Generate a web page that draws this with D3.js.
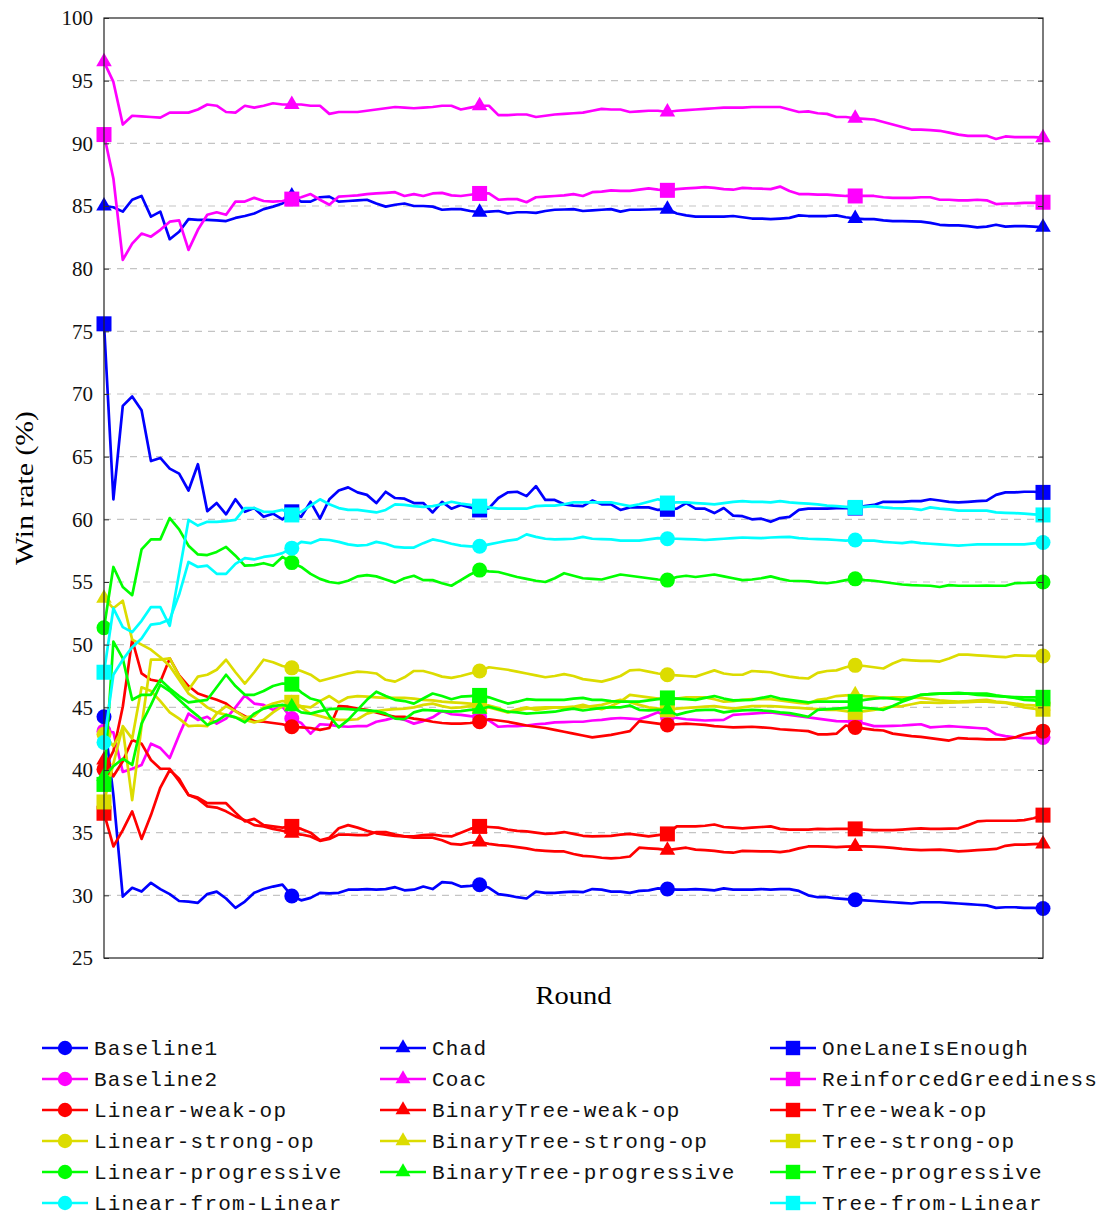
<!DOCTYPE html>
<html><head><meta charset="utf-8">
<script src="https://cdn.jsdelivr.net/npm/d3@7"></script>
<style>html,body{margin:0;padding:0;background:#fff}</style>
</head><body>
<svg id="c" width="1108" height="1216"></svg>
<script>
const rounds = d3.range(0, 101);
const yTicks = [25,30,35,40,45,50,55,60,65,70,75,80,85,90,95,100];

const baseline1 = [44.25,38.0,29.9,30.6,30.3,31.0,30.5,30.1,29.55,29.5,29.4,30.1,30.3,29.75,29.0,29.5,30.2,30.5,30.7,30.85,29.95,29.6,29.8,30.2,30.15,30.2,30.45,30.45,30.5,30.45,30.5,30.65,30.4,30.45,30.7,30.5,31.05,31.0,30.7,30.75,30.85,30.6,30.1,30.0,29.85,29.75,30.3,30.2,30.2,30.25,30.3,30.25,30.5,30.45,30.3,30.3,30.2,30.35,30.4,30.55,30.5,30.45,30.45,30.5,30.45,30.4,30.55,30.45,30.45,30.45,30.5,30.45,30.5,30.5,30.35,30.0,29.85,29.85,29.75,29.7,29.65,29.6,29.55,29.5,29.45,29.4,29.35,29.45,29.45,29.45,29.4,29.35,29.3,29.25,29.2,29.0,29.05,29.05,29.0,29.0,28.95];
const chad = [85.0,84.9,84.55,85.5,85.8,84.15,84.55,82.35,82.95,83.95,83.9,83.9,83.85,83.8,84.05,84.2,84.4,84.75,84.95,85.2,85.8,85.35,85.35,85.7,85.75,85.35,85.4,85.45,85.5,85.2,84.95,85.1,85.2,85.0,85.0,84.95,84.7,84.75,84.75,84.6,84.5,84.55,84.6,84.4,84.5,84.5,84.45,84.6,84.7,84.72,84.75,84.6,84.65,84.7,84.75,84.55,84.7,84.7,84.72,84.75,84.75,84.4,84.25,84.15,84.15,84.15,84.15,84.2,84.1,84.0,84.0,83.95,84.0,84.05,84.25,84.2,84.2,84.2,84.25,84.1,84.0,83.95,83.95,83.85,83.8,83.8,83.78,83.75,83.65,83.5,83.45,83.45,83.4,83.3,83.35,83.5,83.35,83.4,83.4,83.35,83.3];
const oneLane = [75.6,61.6,69.05,69.8,68.7,64.65,64.9,64.05,63.65,62.3,64.4,60.65,61.3,60.4,61.6,60.6,60.9,60.2,60.45,60.0,60.6,60.2,61.4,60.05,61.6,62.3,62.55,62.15,61.95,61.3,62.2,61.7,61.65,61.3,61.3,60.55,61.4,60.85,61.15,60.95,60.75,60.9,61.7,62.15,62.2,61.85,62.65,61.55,61.55,61.2,61.1,61.05,61.5,61.2,61.2,60.75,60.95,60.95,60.95,60.75,60.8,60.85,61.3,60.85,60.85,60.5,60.9,60.3,60.25,60.0,60.05,59.8,60.1,60.2,60.75,60.85,60.85,60.85,60.9,60.9,60.9,61.05,61.15,61.4,61.4,61.4,61.45,61.45,61.6,61.5,61.4,61.35,61.4,61.45,61.5,61.95,62.15,62.15,62.2,62.2,62.15];
const baseline2 = [43.1,43.0,39.85,40.1,40.4,42.1,41.75,40.95,42.8,44.5,44.0,44.25,43.7,44.1,45.0,45.95,45.3,45.2,44.8,45.05,44.1,43.75,42.9,43.65,43.6,43.5,43.45,43.5,43.5,43.85,44.0,44.2,44.0,43.7,43.9,44.2,44.7,44.45,44.4,44.3,44.25,43.95,43.45,43.5,43.5,43.55,43.65,43.7,43.8,43.82,43.85,43.85,43.95,44.0,44.1,44.15,44.1,44.05,44.3,44.6,44.25,44.15,44.05,44.0,43.95,43.98,44.0,44.4,44.45,44.5,44.55,44.6,44.5,44.4,44.3,44.2,44.1,44.0,43.9,43.88,43.85,43.7,43.5,43.5,43.52,43.55,43.6,43.65,43.4,43.45,43.5,43.45,43.4,43.35,43.3,42.85,42.7,42.6,42.55,42.55,42.6];
const coac = [96.5,94.9,91.5,92.2,92.15,92.1,92.05,92.45,92.45,92.45,92.7,93.1,93.0,92.5,92.45,93.0,92.85,93.0,93.2,93.1,93.1,93.1,93.0,93.0,92.35,92.5,92.5,92.5,92.6,92.7,92.8,92.9,92.85,92.8,92.85,92.9,93.0,93.0,92.7,92.85,93.0,93.0,92.25,92.25,92.3,92.3,92.1,92.2,92.3,92.35,92.4,92.45,92.6,92.75,92.7,92.7,92.5,92.55,92.6,92.6,92.5,92.6,92.65,92.7,92.75,92.8,92.85,92.85,92.85,92.9,92.9,92.9,92.9,92.7,92.5,92.55,92.4,92.35,92.1,92.1,92.0,91.95,91.9,91.7,91.5,91.3,91.1,91.1,91.05,91.0,90.85,90.7,90.6,90.6,90.6,90.35,90.55,90.5,90.5,90.5,90.45];
const reinforced = [90.7,87.2,80.7,82.0,82.8,82.55,83.1,83.75,83.85,81.5,83.1,84.3,84.5,84.3,85.35,85.35,85.65,85.4,85.35,85.4,85.55,85.7,85.95,85.5,85.1,85.75,85.8,85.85,85.95,86.0,86.05,86.1,85.8,85.95,85.8,86.0,86.05,85.85,85.8,85.9,86.0,86.0,85.5,85.55,85.55,85.3,85.7,85.75,85.8,85.85,85.95,85.8,86.1,86.15,86.25,86.2,86.2,86.3,86.4,86.3,86.25,86.35,86.4,86.45,86.5,86.45,86.35,86.3,86.45,86.4,86.38,86.35,86.55,86.2,85.95,85.95,85.9,85.9,85.85,85.8,85.8,85.8,85.8,85.7,85.65,85.65,85.65,85.7,85.7,85.5,85.5,85.45,85.45,85.5,85.45,85.15,85.2,85.2,85.25,85.25,85.3];
const linearWeak = [40.05,41.5,45.05,50.4,47.7,47.2,47.05,48.9,47.55,46.7,46.1,45.85,45.6,45.3,44.7,44.3,43.9,43.85,43.75,43.65,43.45,43.4,43.35,43.2,43.35,45.1,45.05,44.9,44.8,44.6,44.4,44.25,44.25,44.1,44.0,43.85,43.75,43.7,43.7,43.75,43.85,44.05,43.95,43.85,43.7,43.55,43.45,43.35,43.2,43.05,42.9,42.75,42.6,42.7,42.8,42.95,43.1,43.9,43.8,43.7,43.6,43.65,43.7,43.65,43.6,43.5,43.45,43.4,43.42,43.45,43.4,43.35,43.25,43.2,43.15,43.1,42.85,42.85,42.9,43.55,43.4,43.3,43.2,43.15,42.9,42.8,42.7,42.65,42.55,42.45,42.35,42.55,42.5,42.48,42.45,42.45,42.45,42.6,42.85,43.0,43.1];
const btWeak = [40.8,39.5,40.7,42.4,42.1,40.8,40.1,40.1,39.1,38.0,37.7,37.1,37.0,36.7,36.3,36.0,35.6,35.5,35.3,35.15,34.95,34.85,34.7,34.35,34.5,34.85,34.85,34.8,34.8,35.05,35.05,34.85,34.7,34.6,34.6,34.6,34.4,34.1,34.05,34.2,34.25,34.1,34.0,33.95,33.85,33.75,33.6,33.55,33.5,33.5,33.3,33.15,33.1,33.0,32.95,33.0,33.1,33.8,33.75,33.7,33.6,33.7,33.8,33.65,33.6,33.55,33.45,33.4,33.55,33.52,33.5,33.5,33.45,33.55,33.75,33.9,33.9,33.88,33.85,33.88,33.9,33.9,33.88,33.85,33.78,33.7,33.65,33.6,33.62,33.65,33.58,33.5,33.55,33.6,33.65,33.7,33.95,34.05,34.05,34.08,34.1];
const treeWeak = [36.55,33.9,35.2,36.7,34.5,36.4,38.6,40.0,39.3,38.0,37.8,37.35,37.35,37.35,36.6,35.9,36.1,35.6,35.5,35.4,35.5,35.3,35.0,34.4,34.6,35.35,35.6,35.4,35.15,34.95,34.85,34.75,34.7,34.7,34.8,34.85,34.75,34.7,35.0,35.3,35.5,35.45,35.4,35.25,35.15,35.1,35.0,34.9,34.95,35.05,34.9,34.75,34.7,34.72,34.75,34.85,34.9,34.8,34.7,34.8,34.9,35.5,35.5,35.5,35.55,35.65,35.45,35.4,35.35,35.4,35.45,35.5,35.3,35.25,35.25,35.25,35.3,35.28,35.3,35.3,35.3,35.25,35.2,35.2,35.2,35.25,35.3,35.35,35.3,35.3,35.32,35.35,35.6,35.9,35.95,35.95,35.95,35.95,36.0,36.15,36.4];
const linearStrong = [42.85,41.9,43.3,37.6,43.5,48.8,48.8,48.9,47.5,46.4,47.45,47.6,48.0,48.8,47.8,46.9,47.8,48.8,48.6,48.3,48.15,47.9,47.6,47.1,47.3,47.5,47.7,47.85,47.8,47.7,47.2,47.05,47.4,47.9,47.9,47.7,47.45,47.35,47.5,47.7,47.9,48.2,48.1,48.0,47.85,47.7,47.55,47.4,47.5,47.65,47.5,47.25,47.15,47.05,47.25,47.5,47.95,48.0,47.85,47.7,47.6,47.55,47.5,47.45,47.7,47.95,47.7,47.6,47.6,47.9,47.85,47.8,47.6,47.45,47.35,47.3,47.75,47.9,47.95,48.2,48.35,48.3,48.2,48.1,48.5,48.8,48.75,48.7,48.7,48.65,48.9,49.2,49.2,49.15,49.1,49.05,49.0,49.15,49.12,49.1,49.1];
const btStrong = [53.7,52.9,53.5,50.4,50.0,49.6,49.0,48.3,47.2,46.1,45.6,45.0,44.6,44.4,44.2,44.0,43.8,44.0,44.6,45.1,45.3,45.1,45.0,45.5,45.9,45.4,45.8,45.9,45.85,45.8,45.75,45.75,45.75,45.7,45.6,45.55,45.45,45.4,45.35,45.3,45.2,45.0,44.8,44.6,44.85,45.0,44.8,44.9,45.0,45.0,45.05,45.2,45.0,44.85,45.1,45.45,46.0,45.9,45.8,45.7,45.6,45.7,45.8,45.8,45.8,45.65,45.45,45.5,45.6,45.65,45.65,45.65,45.55,45.45,45.35,45.3,45.6,45.7,45.9,45.95,46.0,45.9,45.85,45.75,45.8,45.8,45.78,45.75,45.65,45.55,45.5,45.45,45.5,45.55,45.6,45.45,45.4,45.3,45.2,45.15,45.1];
const treeStrong = [37.45,40.5,43.5,42.5,46.6,46.3,45.5,44.6,44.1,43.5,43.55,43.5,44.5,45.1,44.7,44.2,44.3,45.0,45.3,45.5,45.4,45.0,44.5,44.3,44.1,44.0,44.0,44.05,44.5,44.7,44.8,44.85,44.9,45.0,45.2,45.3,45.1,44.95,45.0,45.1,45.1,45.15,44.95,44.6,44.75,44.9,44.95,45.0,45.0,45.0,45.0,45.0,45.1,45.2,45.4,45.6,45.4,45.2,45.0,44.9,44.8,44.9,44.95,45.0,45.05,45.1,45.0,44.9,45.0,45.1,45.1,45.1,45.05,45.0,44.95,44.9,44.85,44.8,44.8,44.7,44.6,44.7,44.8,44.95,45.05,45.1,45.25,45.4,45.38,45.35,45.38,45.4,45.42,45.45,45.45,45.4,45.35,45.2,45.0,44.9,44.85];
const linearProg = [51.35,56.2,54.6,53.95,57.6,58.4,58.4,60.1,59.2,57.9,57.2,57.15,57.4,57.8,57.1,56.3,56.35,56.5,56.3,57.0,56.55,56.2,55.65,55.25,55.0,54.9,55.1,55.45,55.55,55.45,55.2,54.95,55.3,55.5,55.15,55.15,54.9,54.7,55.15,55.6,55.95,55.85,55.8,55.6,55.4,55.25,55.1,55.0,55.3,55.7,55.5,55.3,55.25,55.2,55.4,55.6,55.5,55.4,55.3,55.2,55.15,55.4,55.5,55.4,55.5,55.6,55.45,55.3,55.15,55.2,55.3,55.45,55.25,55.1,55.08,55.05,54.95,54.9,55.0,55.15,55.25,55.15,55.1,55.0,54.9,54.8,54.75,54.72,54.7,54.6,54.75,54.7,54.7,54.7,54.72,54.7,54.7,54.9,54.92,54.95,55.0];
const btProg = [39.5,40.3,40.9,40.4,43.7,45.2,46.8,46.3,45.6,44.9,44.3,43.6,43.9,44.4,44.2,43.8,44.5,44.9,45.1,45.2,45.05,44.6,44.5,44.7,44.85,44.9,44.85,44.8,44.75,44.7,44.5,44.1,44.05,44.6,44.8,44.75,44.7,44.65,44.7,44.8,44.85,45.05,44.85,44.65,44.6,44.5,44.55,44.6,44.65,44.8,44.9,44.75,44.85,44.95,45.0,45.0,45.15,44.8,44.75,44.8,44.8,44.4,44.6,44.75,44.8,44.8,44.6,44.7,44.75,44.8,44.75,44.7,44.6,44.55,44.4,44.25,44.8,44.85,44.9,44.95,45.0,44.95,44.9,44.8,45.1,45.45,45.7,46.0,46.05,46.1,46.1,46.1,46.1,46.1,46.1,45.95,45.85,45.75,45.6,45.55,45.45];
const treeProg = [38.85,50.25,48.9,45.6,46.0,46.0,47.2,46.5,45.9,45.4,45.5,45.6,46.6,47.6,46.7,46.0,46.0,46.3,46.7,46.9,46.85,46.2,45.7,45.5,44.3,43.4,44.0,44.8,45.6,46.25,45.9,45.6,45.5,45.3,45.7,46.1,45.9,45.65,45.85,45.9,45.95,45.8,45.55,45.3,45.45,45.65,45.6,45.6,45.6,45.6,45.7,45.75,45.6,45.6,45.5,45.45,45.45,45.45,45.55,45.65,45.75,45.7,45.65,45.6,45.75,45.9,45.7,45.55,45.58,45.6,45.75,45.9,45.7,45.6,45.5,45.4,45.45,45.45,45.45,45.45,45.45,45.6,45.7,45.75,45.7,45.6,45.8,46.0,46.05,46.1,46.12,46.15,46.1,46.0,45.95,45.9,45.85,45.82,45.8,45.8,45.8];
const linearFromLinear = [42.2,47.6,48.8,49.8,50.5,51.6,51.7,52.0,54.0,56.6,56.2,56.3,55.65,55.65,56.45,56.9,56.8,57.0,57.1,57.3,57.7,58.2,58.1,58.4,58.35,58.2,58.0,57.9,57.95,58.2,58.05,57.8,57.75,57.75,58.1,58.4,58.25,58.05,57.9,57.85,57.85,58.0,58.15,58.3,58.4,58.8,58.6,58.45,58.4,58.42,58.45,58.6,58.45,58.42,58.4,58.3,58.3,58.3,58.4,58.5,58.45,58.45,58.42,58.4,58.35,58.4,58.45,58.5,58.55,58.52,58.5,58.55,58.58,58.6,58.5,58.45,58.42,58.4,58.35,58.3,58.35,58.3,58.3,58.2,58.15,58.1,58.2,58.1,58.05,58.0,57.95,57.9,57.95,58.0,58.0,58.0,58.0,58.0,58.0,58.08,58.15];
const treeFromLinear = [47.8,52.9,51.4,51.0,51.9,53.0,53.0,51.5,55.7,59.95,59.5,59.8,59.8,59.85,59.95,60.9,60.9,60.6,60.6,60.75,60.35,60.6,61.1,61.6,61.2,60.9,60.75,60.75,60.65,60.55,60.75,61.2,61.15,61.05,61.0,61.05,61.2,61.4,61.25,61.15,61.05,60.95,60.85,60.85,60.85,60.85,61.05,61.1,61.1,61.2,61.35,61.35,61.35,61.35,61.35,61.2,61.05,61.2,61.4,61.6,61.3,61.35,61.35,61.3,61.25,61.2,61.3,61.4,61.45,61.4,61.4,61.35,61.45,61.35,61.3,61.25,61.2,61.1,61.05,61.0,60.95,61.0,61.05,60.95,60.9,60.88,60.85,60.75,60.95,60.85,60.8,60.7,60.7,60.7,60.7,60.55,60.52,60.5,60.45,60.4,60.35];

const BLUE = "#0000ff", MAG = "#ff00ff", RED = "#ff0000", YEL = "#dcdc00", GRN = "#00ff00", CYA = "#00ffff";
// legend grid order (row-wise, 3 columns); null = empty slot
const series = [
  {name:"Baseline1", values:baseline1, color:BLUE, mark:"circle"},
  {name:"Chad", values:chad, color:BLUE, mark:"triangle"},
  {name:"OneLaneIsEnough", values:oneLane, color:BLUE, mark:"square"},
  {name:"Baseline2", values:baseline2, color:MAG, mark:"circle"},
  {name:"Coac", values:coac, color:MAG, mark:"triangle"},
  {name:"ReinforcedGreediness", values:reinforced, color:MAG, mark:"square"},
  {name:"Linear-weak-op", values:linearWeak, color:RED, mark:"circle"},
  {name:"BinaryTree-weak-op", values:btWeak, color:RED, mark:"triangle"},
  {name:"Tree-weak-op", values:treeWeak, color:RED, mark:"square"},
  {name:"Linear-strong-op", values:linearStrong, color:YEL, mark:"circle"},
  {name:"BinaryTree-strong-op", values:btStrong, color:YEL, mark:"triangle"},
  {name:"Tree-strong-op", values:treeStrong, color:YEL, mark:"square"},
  {name:"Linear-progressive", values:linearProg, color:GRN, mark:"circle"},
  {name:"BinaryTree-progressive", values:btProg, color:GRN, mark:"triangle"},
  {name:"Tree-progressive", values:treeProg, color:GRN, mark:"square"},
  {name:"Linear-from-Linear", values:linearFromLinear, color:CYA, mark:"circle"},
  null,
  {name:"Tree-from-Linear", values:treeFromLinear, color:CYA, mark:"square"}
];

const svg = d3.select("#c");
const L = 104, R = 1043, T = 18, B = 958;
const x = d3.scaleLinear().domain([0,100]).range([L,R]);
const y = d3.scaleLinear().domain([25,100]).range([B,T]);
const SERIF = "'Liberation Serif','DejaVu Serif',serif";

// grid
svg.append("g").selectAll("line").data(yTicks.filter(v=>v>25 && v<100)).join("line")
  .attr("x1",L).attr("x2",R).attr("y1",d=>y(d)).attr("y2",d=>y(d))
  .attr("stroke","#c4c4c4").attr("stroke-width",1.1).attr("stroke-dasharray","7,6");

function markPath(sel, mark, color, size){
  if(mark==="circle"){
    sel.append("circle").attr("r",size).attr("fill",color);
  } else if(mark==="square"){
    sel.append("rect").attr("x",-size).attr("y",-size).attr("width",2*size).attr("height",2*size).attr("fill",color);
  } else {
    const r = size*1.2;
    sel.append("path").attr("d",`M0,${-r}L${r*0.866},${r*0.5}L${-r*0.866},${r*0.5}Z`).attr("fill",color);
  }
}

const line = d3.line().x((d,i)=>x(rounds[i])).y(d=>y(d));
const plot = svg.append("g");
series.filter(s=>s).forEach(s=>{
  plot.append("path").datum(s.values).attr("d",line).attr("fill","none")
    .attr("stroke",s.color).attr("stroke-width",2.7).attr("stroke-linejoin","round");
  const g = plot.append("g");
  rounds.filter(r=>r%20===0).forEach(r=>{
    const m = g.append("g").attr("transform",`translate(${x(r)},${y(s.values[r])})`);
    markPath(m, s.mark, s.color, 7.5);
  });
});

// axes
const axL = d3.axisLeft(y).tickValues(yTicks).tickSize(-5).tickPadding(11).tickFormat(d3.format("d"));
const gl = svg.append("g").attr("transform",`translate(${L},0)`).call(axL);
const axR = d3.axisRight(y).tickValues(yTicks).tickSize(-5).tickFormat("");
const gr = svg.append("g").attr("transform",`translate(${R},0)`).call(axR);
[gl,gr].forEach(g=>{g.select(".domain").remove(); g.selectAll(".tick line").attr("stroke","#333").attr("stroke-width",1);});
gl.selectAll("text").attr("font-family",SERIF).attr("font-size",21).attr("fill","#111");
svg.append("rect").attr("x",L).attr("y",T).attr("width",R-L).attr("height",B-T)
  .attr("fill","none").attr("stroke","#222").attr("stroke-width",1.2);

svg.append("text").attr("x",(L+R)/2).attr("y",1004).attr("text-anchor","middle")
  .attr("font-family",SERIF).attr("font-size",25).attr("textLength",76).attr("lengthAdjust","spacingAndGlyphs").text("Round");
svg.append("text").attr("transform",`translate(33,${(T+B)/2}) rotate(-90)`).attr("text-anchor","middle")
  .attr("font-family",SERIF).attr("font-size",25).attr("textLength",154).attr("lengthAdjust","spacingAndGlyphs").text("Win rate (%)");

// legend
const colX = [42, 380, 770];
const lg = svg.append("g");
series.forEach((s,k)=>{
  if(!s) return;
  const col = k%3, row = Math.floor(k/3);
  const yy = 1048 + row*31, x0 = colX[col];
  lg.append("line").attr("x1",x0).attr("x2",x0+46).attr("y1",yy).attr("y2",yy)
    .attr("stroke",s.color).attr("stroke-width",2.7);
  const m = lg.append("g").attr("transform",`translate(${x0+23},${yy})`);
  markPath(m, s.mark, s.color, 7.2);
  lg.append("text").attr("x",x0+52).attr("y",yy).attr("dy","0.33em")
    .attr("font-family","'Liberation Mono','DejaVu Sans Mono',monospace").attr("font-size",21)
    .attr("letter-spacing","1.2").attr("fill","#111")
    .text(s.name);
});
</script>
</body></html>
